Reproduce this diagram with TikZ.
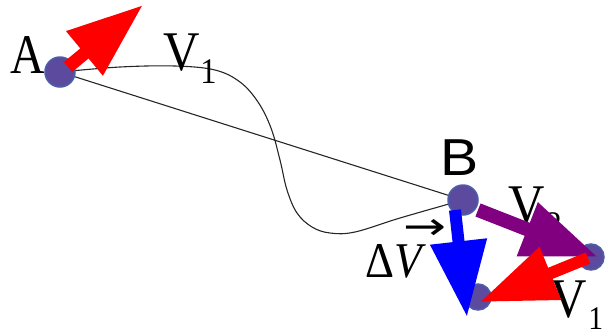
\documentclass[tikz,border=0pt]{standalone}
\usepackage{fontspec}
\setmainfont{Liberation Serif}
\newfontfamily\sansB{Liberation Sans}
\newfontfamily\arrowfont{DejaVu Sans}
\usetikzlibrary{arrows.meta}
\definecolor{dotfill}{HTML}{5B4A9E}
\definecolor{dotedge}{HTML}{4B5FA8}
\definecolor{arrpurple}{HTML}{800080}
\begin{document}
\begin{tikzpicture}[x=1pt,y=-1pt,
  dot/.style={circle,fill=dotfill,draw=dotedge,line width=1.5pt,minimum size=#1,inner sep=0pt},
  lbl/.style={font=\fontsize{56}{56}\selectfont,inner sep=0pt,anchor=base west},
  fat/.style={line width=#1,line cap=butt,-{Triangle[length=76pt,width=54pt]}},
  trail/.style={line width=1.1pt,black!85}
]
\useasboundingbox (0,0) rectangle (608,333);
% points
\coordinate (Ac) at (60,72);
\coordinate (Bc) at (463,200);
% trajectory lines
\draw[trail] (Ac) -- (Bc);
\draw[trail] plot[smooth,tension=0.6] coordinates {(Ac) (120,67) (175,66) (215,70) (240,82) (258,102) (271,128) (280,160) (287,190) (297,213) (312,227) (330,233) (355,232) (400,218) (Bc)};
% dots
\node[dot=30pt] (A) at (Ac) {};
\node[dot=30pt] (B) at (Bc) {};
\node[dot=26pt] (C) at (591,257) {};
\node[dot=26pt] (D) at (478,297) {};
% labels
\node[lbl] (lA) at (10,73) {\scalebox{0.85}[1]{A}};
\node[lbl] (lV1) at (163,70) {\scalebox{0.9}[1]{V\kern1pt\raisebox{-13pt}{\fontsize{36}{36}\selectfont 1}}};
\node[lbl,font=\sansB\fontsize{52}{52}\selectfont] (lB) at (440,175) {\scalebox{1.1}[1]{B}};
\node[lbl] (lV2) at (508,223) {\scalebox{0.9}[1]{V\kern1pt\raisebox{-13pt}{\fontsize{36}{36}\selectfont 2}}};
\node[lbl] (lV1b) at (550,317) {\scalebox{0.9}[1]{V\kern2pt\raisebox{-12pt}{\fontsize{33}{33}\selectfont 1}}};
\node[lbl,font=\fontsize{50}{50}\selectfont] (lDV) at (365,277) {\scalebox{0.9}[1]{Δ\makebox[0pt][l]{\kern10pt\raisebox{38pt}{\scalebox{1.5}[1]{\arrowfont\fontsize{38}{38}\selectfont →}}}\textit{V}}};
% arrows
\coordinate (r1s) at (68,67);   \coordinate (r1t) at (143,5);
\coordinate (ps)  at (478,210); \coordinate (pt)  at (598,257);
\coordinate (bs)  at (455,210); \coordinate (bt)  at (467,317);
\coordinate (r2s) at (588,258); \coordinate (r2t) at (480,302);
\draw[fat=13pt,red] (r1s) -- (r1t);
\draw[fat=14pt,arrpurple] (ps) -- (pt);
\draw[fat=12pt,blue] (bs) -- (bt);
\draw[fat=12pt,red] (r2s) -- (r2t);
\end{tikzpicture}
\end{document}
